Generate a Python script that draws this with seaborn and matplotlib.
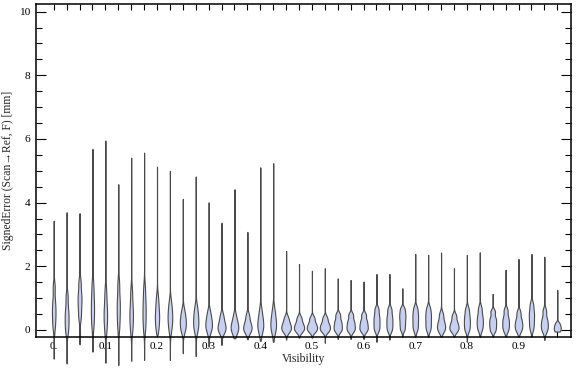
import numpy as np
import pandas as pd
import matplotlib
matplotlib.use("Agg")
import matplotlib.pyplot as plt
import seaborn as sns
from matplotlib.ticker import FixedLocator, MultipleLocator

# ---- data (per visibility bin) ----
visibility = [0.0, 0.025, 0.05, 0.075, 0.1, 0.125, 0.15, 0.175, 0.2, 0.225,
              0.25, 0.275, 0.3, 0.325, 0.35, 0.375, 0.4, 0.425, 0.45, 0.475,
              0.5, 0.525, 0.55, 0.575, 0.6, 0.625, 0.65, 0.675, 0.7, 0.725,
              0.75, 0.775, 0.8, 0.825, 0.85, 0.875, 0.9, 0.925, 0.95, 0.975]

err_min = [-0.90, -1.05, -0.45, -0.68, -1.03, -1.10, -0.97, -0.94, -0.15, -0.94,
           -0.73, -0.82, -0.52, -0.47, -0.26, -0.29, -0.34, -0.37, -0.30, -0.24,
           -0.24, -0.40, -0.28, -0.28, -0.28, -0.37, -0.30, -0.20, -0.20, -0.20,
           -0.20, -0.20, -0.37, -0.20, -0.20, -0.20, -0.20, -0.20, -0.31, -0.05]

err_p10 = [0.10, -0.05, 0.40, 0.15, 0.00, 0.10, 0.00, 0.05, 0.05, 0.02,
           -0.02, 0.00, -0.03, -0.05, -0.05, -0.05, -0.03, -0.03, -0.04, -0.04,
           -0.04, -0.04, -0.03, -0.03, -0.03, 0.00, 0.00, 0.03, 0.02, 0.02,
           -0.03, -0.03, 0.00, 0.02, -0.02, -0.01, -0.02, 0.05, -0.03, -0.04]

err_p25 = [0.40, 0.20, 0.70, 0.45, 0.30, 0.45, 0.30, 0.35, 0.28, 0.25,
           0.12, 0.15, 0.10, 0.03, 0.03, 0.03, 0.09, 0.09, 0.04, 0.04,
           0.04, 0.04, 0.07, 0.07, 0.07, 0.15, 0.15, 0.20, 0.18, 0.18,
           0.07, 0.06, 0.15, 0.17, 0.12, 0.13, 0.10, 0.24, 0.10, 0.02]

err_p50 = [0.63, 0.42, 0.94, 0.73, 0.52, 0.73, 0.52, 0.63, 0.47, 0.42,
           0.26, 0.31, 0.21, 0.12, 0.10, 0.12, 0.21, 0.22, 0.12, 0.12,
           0.12, 0.12, 0.18, 0.18, 0.18, 0.30, 0.30, 0.36, 0.35, 0.35,
           0.17, 0.15, 0.30, 0.31, 0.25, 0.26, 0.21, 0.42, 0.22, 0.08]

err_p75 = [0.90, 0.65, 1.15, 1.00, 0.78, 1.00, 0.78, 0.90, 0.68, 0.60,
           0.40, 0.48, 0.35, 0.25, 0.22, 0.24, 0.36, 0.38, 0.22, 0.22,
           0.22, 0.22, 0.30, 0.30, 0.30, 0.45, 0.45, 0.50, 0.50, 0.50,
           0.30, 0.27, 0.45, 0.46, 0.38, 0.40, 0.34, 0.58, 0.36, 0.14]

err_p90 = [1.35, 1.05, 1.50, 1.40, 1.20, 1.45, 1.20, 1.30, 1.00, 0.85,
           0.60, 0.70, 0.55, 0.45, 0.42, 0.45, 0.60, 0.62, 0.38, 0.38,
           0.38, 0.38, 0.48, 0.48, 0.48, 0.65, 0.65, 0.66, 0.68, 0.68,
           0.50, 0.45, 0.65, 0.68, 0.58, 0.62, 0.55, 0.80, 0.60, 0.22]

err_max = [3.43, 3.70, 3.67, 5.69, 5.95, 4.58, 5.41, 5.57, 5.13, 5.00,
           4.12, 4.82, 4.01, 3.37, 4.42, 3.08, 5.11, 5.24, 2.48, 2.07,
           1.86, 1.94, 1.62, 1.57, 1.52, 1.76, 1.76, 1.31, 2.39, 2.36,
           2.43, 1.94, 2.36, 2.44, 1.13, 1.89, 2.23, 2.39, 2.30, 1.26]

core_weight = 20   # weight of each central summary point relative to the extremes

x_tick_pos = [0.0, 0.1, 0.2, 0.3, 0.4, 0.5, 0.6, 0.7, 0.8, 0.9]
x_tick_labels = ["0.", "0.1", "0.2", "0.3", "0.4", "0.5", "0.6", "0.7", "0.8", "0.9"]
y_tick_pos = [0, 2, 4, 6, 8, 10]

# ---- build long-form table ----
rows = []
for i, v in enumerate(visibility):
    rows.append((v, err_min[i]))
    rows.append((v, err_max[i]))
    for col in (err_p10, err_p25, err_p50, err_p75, err_p90):
        for _ in range(core_weight):
            rows.append((v, col[i]))
df = pd.DataFrame(rows, columns=["Visibility", "SignedError"])
df_main = df[df["Visibility"] != visibility[-1]]
df_last = df[df["Visibility"] == visibility[-1]]

sns.set_style("ticks")
plt.rcParams["font.family"] = ["Liberation Serif", "DejaVu Serif"]

fig = plt.figure(figsize=(5.76, 3.77), dpi=100)
ax = fig.add_axes([0.0625, 0.1048, 0.9913 - 0.0625, 0.9894 - 0.1048])

style = dict(cut=0, inner=None, bw_method=0.36, density_norm="area",
             color="#c8d0f2", saturation=1, linecolor="#4a4a4a", linewidth=0.8)
sns.violinplot(data=df_main, x="Visibility", y="SignedError", native_scale=True,
               width=0.8, ax=ax, **style)
# the last (sparse) bin is drawn on its own with a smaller width
sns.violinplot(data=df_last, x="Visibility", y="SignedError", native_scale=True,
               width=0.0135, ax=ax, **style)

for c in ax.collections:
    c.set_clip_on(False)

ax.set_xlim(-0.0343, 1.0016)
ax.set_ylim(-0.236, 10.24)

ax.xaxis.set_major_locator(FixedLocator(x_tick_pos))
ax.set_xticklabels(x_tick_labels)
ax.xaxis.set_minor_locator(FixedLocator(visibility))
ax.yaxis.set_major_locator(FixedLocator(y_tick_pos))
ax.yaxis.set_minor_locator(MultipleLocator(0.5))

ax.tick_params(axis="both", which="both", direction="in", top=True, right=True,
               colors="black", labelsize=8.2, width=0.8)
ax.tick_params(axis="x", which="major", length=4.5, pad=3)
ax.tick_params(axis="x", which="minor", length=4.5)
ax.tick_params(axis="y", which="major", length=7, pad=4)
ax.tick_params(axis="y", which="minor", length=4)

for s in ax.spines.values():
    s.set_linewidth(1.1)
    s.set_color("black")

ax.set_xlabel("Visibility", fontsize=8.4, labelpad=2)
ax.set_ylabel("SignedError (Scan\u2192Ref, F) [mm]", fontsize=8.4, labelpad=4)

fig.savefig("out.png", dpi=100)
